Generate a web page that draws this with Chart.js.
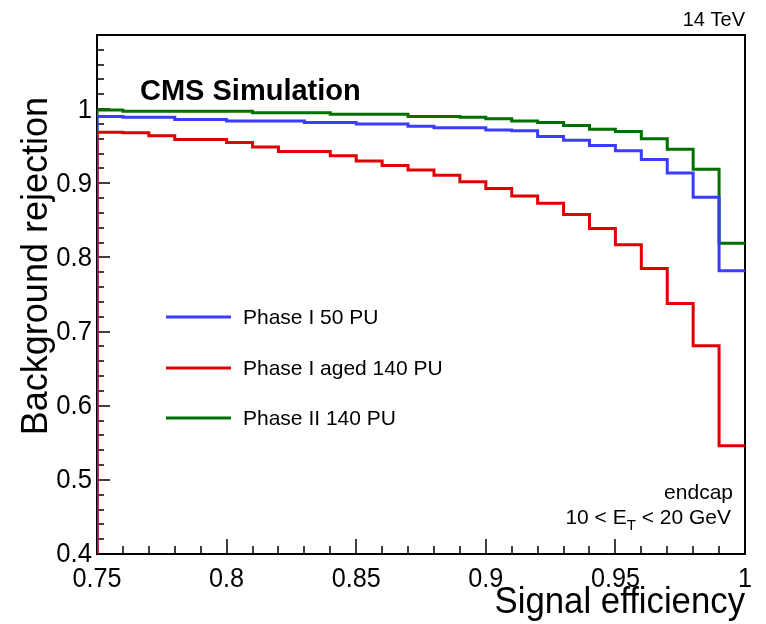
<!DOCTYPE html>
<html>
<head>
<meta charset="utf-8">
<script src="https://cdn.jsdelivr.net/npm/chart.js@4"></script>
<style>
  html, body { margin: 0; padding: 0; background: #fff; }
  #roc { display: block; }
</style>
</head>
<body>
<canvas id="roc" width="766" height="624"></canvas>
<script>
// ROC curves: background rejection vs signal efficiency, drawn as ROOT-style step histograms

// bin edges in signal efficiency (25 bins of 0.01)
const binEdges = [0.75, 0.76, 0.77, 0.78, 0.79, 0.80, 0.81, 0.82, 0.83, 0.84, 0.85, 0.86, 0.87,
  0.88, 0.89, 0.90, 0.91, 0.92, 0.93, 0.94, 0.95, 0.96, 0.97, 0.98, 0.99, 1.00];

// background rejection per bin
const phase1_50PU = [0.990, 0.989, 0.989, 0.986, 0.986, 0.984, 0.984, 0.984, 0.982, 0.982, 0.980, 0.980, 0.977,
  0.975, 0.975, 0.972, 0.971, 0.963, 0.958, 0.951, 0.944, 0.932, 0.914, 0.881, 0.782];
const phase1Aged_140PU = [0.969, 0.968, 0.964, 0.959, 0.959, 0.955, 0.949, 0.943, 0.943, 0.937, 0.930, 0.924, 0.918,
  0.911, 0.902, 0.893, 0.883, 0.873, 0.858, 0.839, 0.817, 0.785, 0.738, 0.681, 0.546];
const phase2_140PU = [0.999, 0.997, 0.997, 0.997, 0.997, 0.997, 0.995, 0.995, 0.995, 0.993, 0.993, 0.993, 0.990,
  0.990, 0.989, 0.987, 0.984, 0.982, 0.978, 0.973, 0.970, 0.960, 0.946, 0.919, 0.819];

const seriesLabels = ['Phase I 50 PU', 'Phase I aged 140 PU', 'Phase II 140 PU'];
const seriesColors = ['rgb(60, 60, 255)', 'rgb(225, 0, 0)', 'rgb(0, 112, 0)'];

const xTickValues = [0.75, 0.8, 0.85, 0.9, 0.95, 1];
const xTickLabels = ['0.75', '0.8', '0.85', '0.9', '0.95', '1'];
const yTickValues = [0.4, 0.5, 0.6, 0.7, 0.8, 0.9, 1.0];
const yTickLabels = ['0.4', '0.5', '0.6', '0.7', '0.8', '0.9', '1'];

const FONT = "'Liberation Sans', Arial, Helvetica, sans-serif";

// histogram outline: rises from zero at the first edge, one step per bin
function histPoints(values) {
  const pts = [{ x: binEdges[0], y: 0 }];
  values.forEach((v, i) => pts.push({ x: binEdges[i], y: v }));
  pts.push({ x: binEdges[binEdges.length - 1], y: values[values.length - 1] });
  return pts;
}

// text squeezed a little horizontally, like the narrow Helvetica of the original
function narrowText(ctx, text, x, y, squeeze) {
  ctx.save();
  ctx.translate(x, y);
  ctx.scale(squeeze, 1);
  ctx.fillText(text, 0, 0);
  ctx.restore();
}

// frame, inward ticks, labels, legend and captions in the ROOT look
const rootStyle = {
  id: 'rootStyle',
  beforeDatasetsDraw(chart) {
    const { ctx, chartArea: a, scales: { x, y } } = chart;
    ctx.save();
    ctx.strokeStyle = '#000';
    ctx.lineWidth = 2;
    ctx.strokeRect(a.left, a.top, a.right - a.left, a.bottom - a.top);

    ctx.lineWidth = 1.5;
    ctx.beginPath();
    // x ticks every 0.01, long every 0.05
    for (let i = 0; i <= 25; i++) {
      const px = Math.round(x.getPixelForValue(0.75 + i * 0.01));
      const len = i % 5 === 0 ? 15 : 8;
      ctx.moveTo(px, a.bottom);
      ctx.lineTo(px, a.bottom - len);
    }
    // y ticks every 0.02, long every 0.1
    for (let i = 0; i < 35; i++) {
      const py = Math.round(y.getPixelForValue(0.4 + i * 0.02));
      const len = i % 5 === 0 ? 13 : 7;
      ctx.moveTo(a.left, py);
      ctx.lineTo(a.left + len, py);
    }
    ctx.stroke();

    ctx.fillStyle = '#000';
    ctx.font = '28px ' + FONT;
    ctx.textAlign = 'center';
    ctx.textBaseline = 'alphabetic';
    xTickValues.forEach((v, i) => {
      narrowText(ctx, xTickLabels[i], x.getPixelForValue(v), a.bottom + 33, 0.9);
    });
    ctx.font = '27px ' + FONT;
    ctx.textAlign = 'right';
    ctx.textBaseline = 'middle';
    yTickValues.forEach((v, i) => {
      narrowText(ctx, yTickLabels[i], a.left - 5, y.getPixelForValue(v) + 1, 0.95);
    });
    ctx.restore();
  },
  afterDraw(chart) {
    const { ctx, chartArea: a } = chart;
    ctx.save();
    ctx.fillStyle = '#000';
    ctx.textBaseline = 'alphabetic';

    // axis titles
    ctx.font = '36px ' + FONT;
    ctx.textAlign = 'right';
    narrowText(ctx, 'Signal efficiency', a.right, 613, 0.965);
    ctx.save();
    ctx.translate(47, 97);
    ctx.rotate(-Math.PI / 2);
    ctx.fillText('Background rejection', 0, 0);
    ctx.restore();

    ctx.font = 'bold 29px ' + FONT;
    ctx.textAlign = 'left';
    ctx.fillText('CMS Simulation', 140, 100);

    ctx.font = '20px ' + FONT;
    ctx.textAlign = 'right';
    ctx.fillText('14 TeV', a.right, 26);

    ctx.font = '21px ' + FONT;
    ctx.fillText('endcap', 733, 499);

    // 10 < E_T < 20 GeV, right aligned
    const right = 731, base = 524;
    const part1 = '10 < E', part3 = ' < 20 GeV';
    ctx.font = '21px ' + FONT;
    const w1 = ctx.measureText(part1).width;
    const w3 = ctx.measureText(part3).width;
    ctx.font = '15px ' + FONT;
    const w2 = ctx.measureText('T').width;
    const start = right - w1 - w2 - w3;
    ctx.textAlign = 'left';
    ctx.font = '21px ' + FONT;
    ctx.fillText(part1, start, base);
    ctx.fillText(part3, start + w1 + w2, base);
    ctx.font = '15px ' + FONT;
    ctx.fillText('T', start + w1, base + 6);

    // legend
    const rows = [317, 368, 418];
    ctx.font = '21px ' + FONT;
    ctx.textBaseline = 'middle';
    chart.data.datasets.forEach((ds, i) => {
      ctx.strokeStyle = ds.borderColor;
      ctx.lineWidth = 3;
      ctx.beginPath();
      ctx.moveTo(166, rows[i]);
      ctx.lineTo(231, rows[i]);
      ctx.stroke();
      ctx.fillStyle = '#000';
      ctx.fillText(ds.label, 243, rows[i] + 1);
    });
    ctx.restore();
  }
};

const seriesValues = [phase1_50PU, phase1Aged_140PU, phase2_140PU];
// red drawn on top, then blue, then green
const drawOrder = [1, 0, 2];

const datasets = seriesValues.map((vals, i) => ({
  label: seriesLabels[i],
  data: histPoints(vals),
  borderColor: seriesColors[i],
  backgroundColor: seriesColors[i],
  borderWidth: 3,
  stepped: true,
  fill: false,
  pointRadius: 0,
  order: drawOrder[i]
}));

const ctx = document.getElementById('roc').getContext('2d');
new Chart(ctx, {
  type: 'line',
  data: { datasets: datasets },
  options: {
    responsive: false,
    animation: false,
    layout: { padding: { left: 97, right: 21, top: 35, bottom: 70 } },
    scales: {
      x: { type: 'linear', min: 0.75, max: 1.0, display: false },
      y: { type: 'linear', min: 0.4, max: 1.1, display: false }
    },
    plugins: {
      legend: { display: false },
      tooltip: { enabled: false }
    }
  },
  plugins: [rootStyle]
});
</script>
</body>
</html>
